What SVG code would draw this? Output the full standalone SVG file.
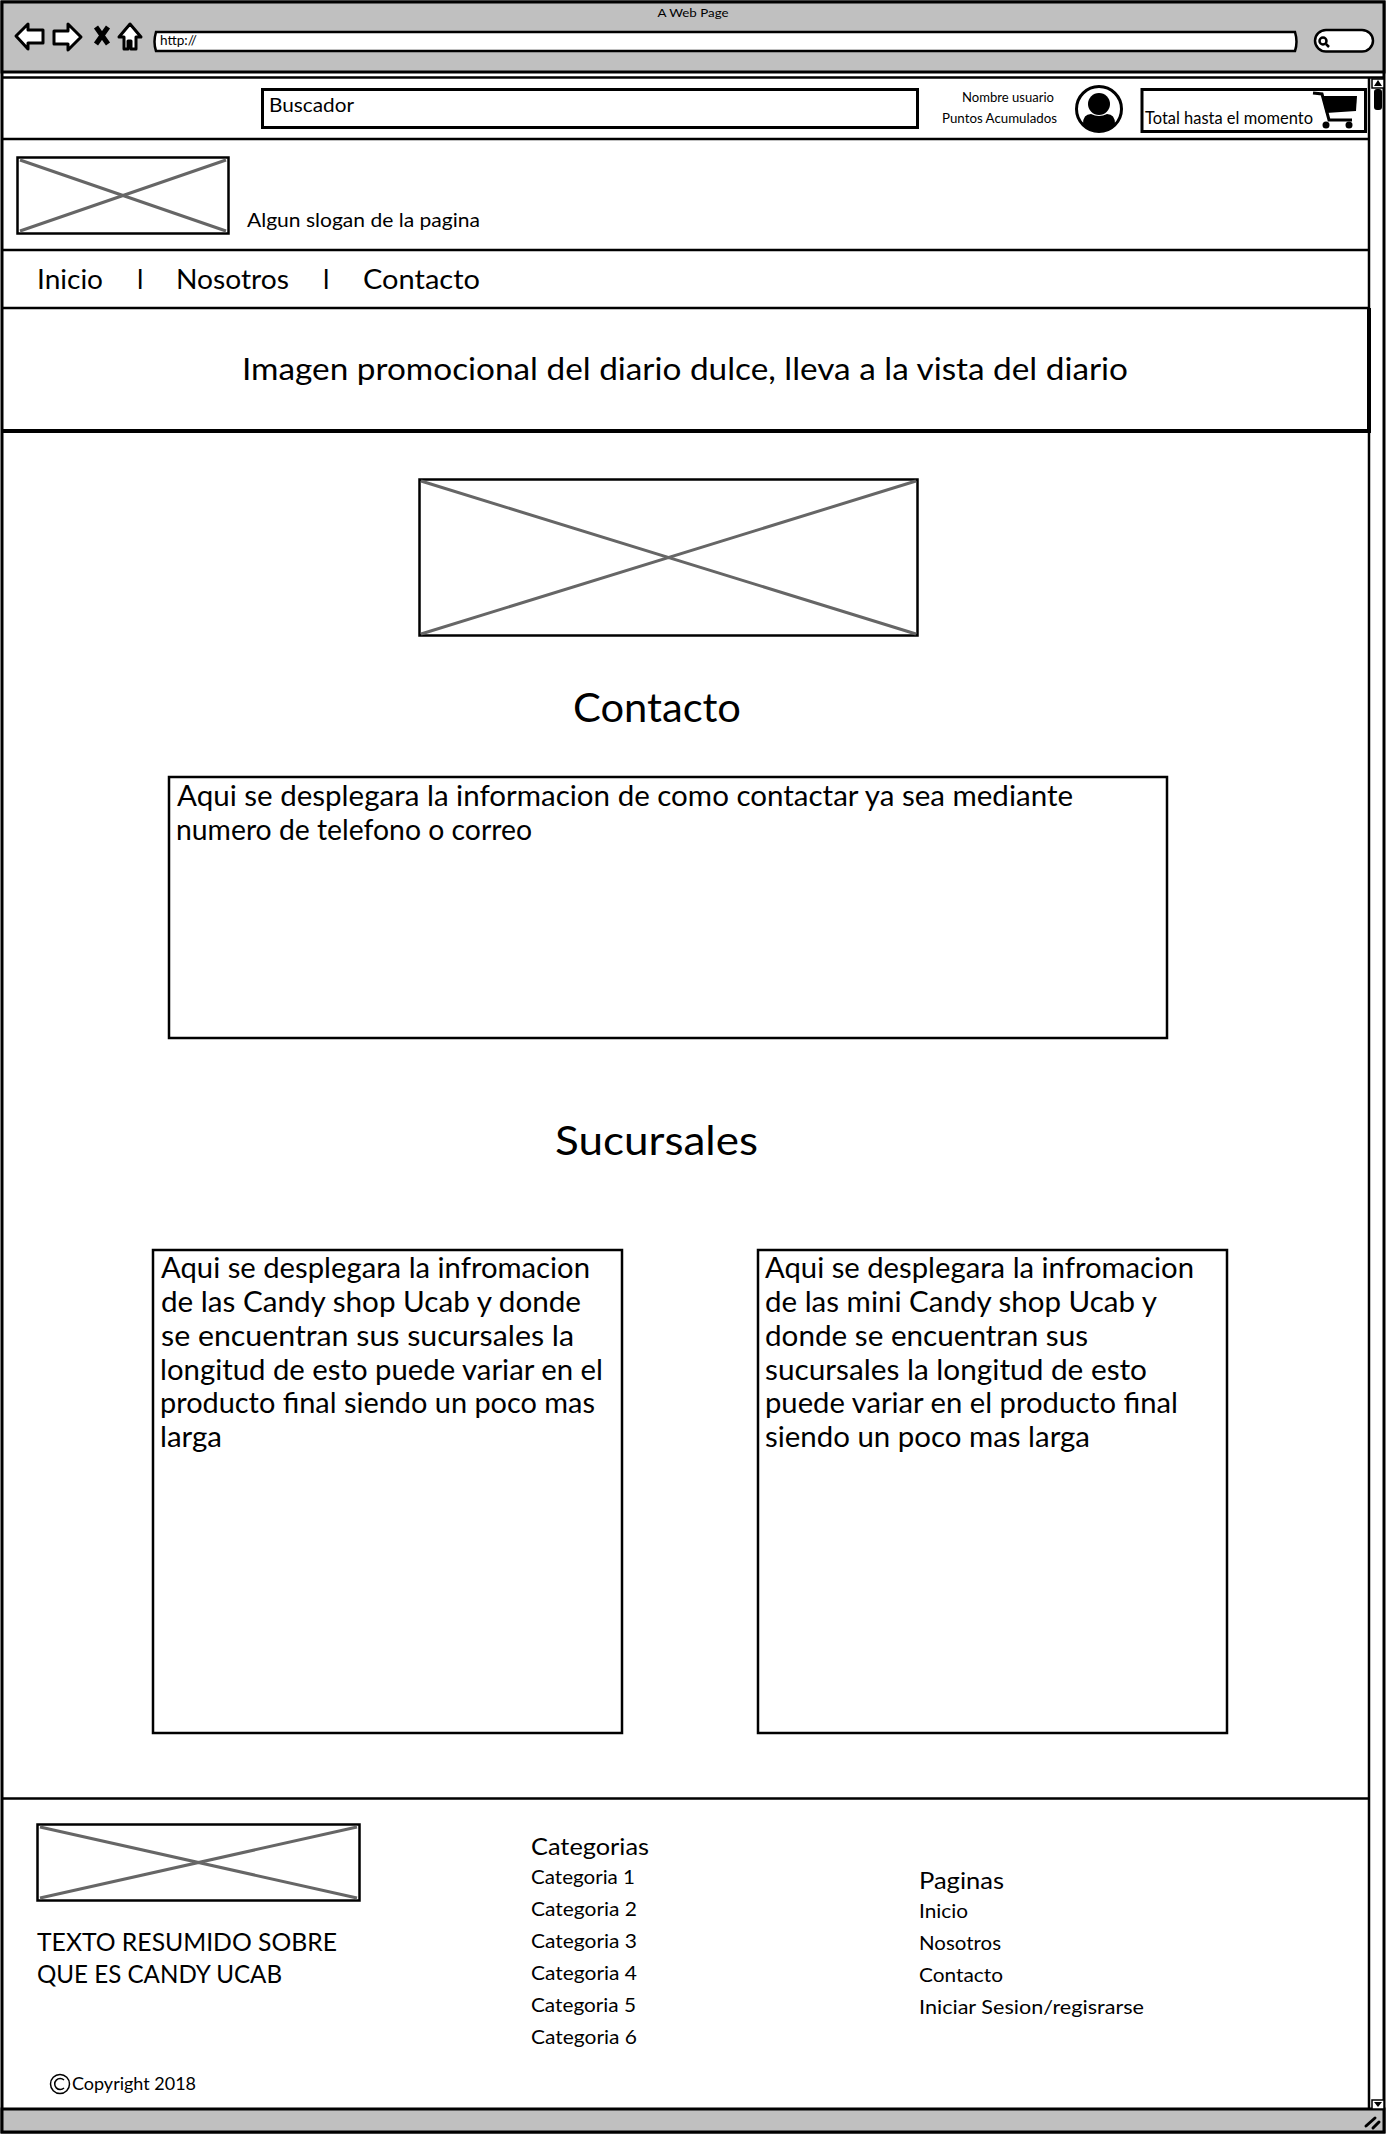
<svg xmlns="http://www.w3.org/2000/svg" width="1386" height="2135" viewBox="0 0 1386 2135">
<style>
text{font-family:"Lato","Liberation Sans",sans-serif;fill:#000}
.l{fill:none;stroke:#000;stroke-width:2.500}
.b{fill:#fff;stroke:#000;stroke-width:2.500}
.t{fill:#fff;stroke:#000;stroke-width:3;stroke-linejoin:round}
.x{stroke:#666;stroke-width:3;fill:none}
.g{fill:#c0c0c0;stroke:#000;stroke-width:3}
</style>
<rect width="1386" height="2135" fill="#fff"/>
<g id="browser">
<rect x="2" y="2" width="1382" height="2130" fill="#fff" stroke="#000" stroke-width="3"/>
<path class="g" d="M2 2H1384V72H2Z"/>
<path class="l" d="M2 77.500H1384"/>
<path class="g" d="M2 2109H1384V2132H2Z"/>
<path class="l" d="M1369 78V2109"/>
<text x="693" y="17" font-size="12" text-anchor="middle" textLength="71" lengthAdjust="spacingAndGlyphs">A Web Page</text>
<path class="t" d="M16 36L28 24V30H43V43H28V49Z"/>
<path class="t" d="M81 37L68 24V31H54V44H68V50Z"/>
<path d="M96 27L108 44M108 27L96 44" fill="none" stroke="#000" stroke-width="5"/>
<path class="t" d="M130 24L141 37H136V49H131V41H128V49H124V37H119Z"/>
<path class="b" d="M156 32H1295Q1298 42 1295 51H156Q153 42 156 32Z"/>
<text x="160" y="45" font-size="12.500" textLength="37" lengthAdjust="spacingAndGlyphs">http://</text>
<rect class="b" x="1315" y="30" width="58" height="21.500" rx="11"/>
<circle cx="1323" cy="41" r="3.500" fill="none" stroke="#000" stroke-width="2.500"/>
<path d="M1326 44L1329 47" stroke="#000" stroke-width="2.500"/>
<rect x="1372" y="79" width="12" height="9" fill="#fff" stroke="#000" stroke-width="1.500"/>
<path d="M1374 86L1378 80L1382 86Z"/>
<rect x="1374" y="89" width="8" height="21" rx="3"/>
<rect x="1372" y="2100" width="12" height="9" fill="#fff" stroke="#000" stroke-width="1.500"/>
<path d="M1374 2102H1382L1378 2107Z"/>
<path d="M1366 2126L1375 2118M1373 2128L1379 2122" stroke="#000" stroke-width="3" stroke-linecap="round" fill="none"/>
</g>
<g id="topbar">
<path class="l" d="M2 139H1369"/>
<rect x="262.500" y="89.500" width="655" height="38" fill="#fff" stroke="#000" stroke-width="3"/>
<text x="269" y="112" font-size="19" textLength="85" lengthAdjust="spacingAndGlyphs">Buscador</text>
<text x="962" y="102" font-size="13" textLength="92" lengthAdjust="spacingAndGlyphs">Nombre usuario</text>
<text x="942" y="123" font-size="13" textLength="115" lengthAdjust="spacingAndGlyphs">Puntos Acumulados</text>
</g>
<g id="user-icon">
<circle cx="1099" cy="109" r="22.500" fill="#fff" stroke="#000" stroke-width="3"/>
<circle cx="1099" cy="104" r="11"/>
<path d="M1083 124Q1083 114 1091 114Q1099 118 1107 114Q1115 114 1115 124Q1099 139 1083 124Z"/>
</g>
<g id="cart">
<rect x="1142" y="89.500" width="223.500" height="42" fill="#fff" stroke="#000" stroke-width="3"/>
<text x="1145" y="124" font-size="17" textLength="168" lengthAdjust="spacingAndGlyphs">Total hasta el momento</text>
<path d="M1313 93L1322 94L1329 120H1352" fill="none" stroke="#000" stroke-width="3"/>
<path d="M1322 96H1357L1356 111L1326 113Z"/>
<circle cx="1326" cy="125" r="3.500"/>
<circle cx="1349" cy="125" r="3.500"/>
</g>
<g id="header">
<rect x="17.500" y="157.500" width="211" height="76" fill="#fff" stroke="#000" stroke-width="2.500"/>
<path class="x" d="M20 160L226 231M20 231L226 160"/>
<text x="247" y="227" font-size="19" textLength="233" lengthAdjust="spacingAndGlyphs">Algun slogan de la pagina</text>
<path class="l" d="M2 250H1369"/>
</g>
<g id="nav">
<text x="37" y="289" font-size="27" textLength="66" lengthAdjust="spacingAndGlyphs">Inicio</text>
<text x="137" y="289" font-size="27">l</text>
<text x="176" y="289" font-size="27" textLength="113" lengthAdjust="spacingAndGlyphs">Nosotros</text>
<text x="323" y="289" font-size="27">l</text>
<text x="363" y="289" font-size="27" textLength="117" lengthAdjust="spacingAndGlyphs">Contacto</text>
<path class="l" d="M2 308H1369"/>
</g>
<g id="banner">
<text x="242" y="380" font-size="31" textLength="886" lengthAdjust="spacingAndGlyphs">Imagen promocional del diario dulce, lleva a la vista del diario</text>
<path d="M2 431H1369V308" fill="none" stroke="#000" stroke-width="4"/>
</g>
<g id="hero-image">
<rect x="419.500" y="479.500" width="498" height="156" fill="#fff" stroke="#000" stroke-width="2.500"/>
<path class="x" d="M421 481L916 634M421 634L916 481"/>
</g>
<g id="contacto">
<text x="573" y="722" font-size="40" textLength="168" lengthAdjust="spacingAndGlyphs">Contacto</text>
<rect class="b" x="169" y="777" width="998" height="261"/>
<text x="177" y="806" font-size="28" textLength="896" lengthAdjust="spacingAndGlyphs">Aqui se desplegara la informacion de como contactar ya sea mediante</text>
<text x="176" y="840" font-size="28" textLength="356" lengthAdjust="spacingAndGlyphs">numero de telefono o correo</text>
</g>
<g id="sucursales">
<text x="555" y="1155" font-size="40" textLength="203" lengthAdjust="spacingAndGlyphs">Sucursales</text>
</g>
<g id="sucursal-1">
<rect class="b" x="153" y="1250" width="469" height="483"/>
<g font-size="28">
<text x="161" y="1278" textLength="429" lengthAdjust="spacingAndGlyphs">Aqui se desplegara la infromacion</text>
<text x="161" y="1312" textLength="420" lengthAdjust="spacingAndGlyphs">de las Candy shop Ucab y donde</text>
<text x="161" y="1346" textLength="413" lengthAdjust="spacingAndGlyphs">se encuentran sus sucursales la</text>
<text x="160" y="1380" textLength="443" lengthAdjust="spacingAndGlyphs">longitud de esto puede variar en el</text>
<text x="160" y="1413" textLength="435" lengthAdjust="spacingAndGlyphs">producto final siendo un poco mas</text>
<text x="160" y="1447" textLength="62" lengthAdjust="spacingAndGlyphs">larga</text>
</g>
</g>
<g id="sucursal-2">
<rect class="b" x="758" y="1250" width="469" height="483"/>
<g font-size="28">
<text x="765" y="1278" textLength="429" lengthAdjust="spacingAndGlyphs">Aqui se desplegara la infromacion</text>
<text x="765" y="1312" textLength="392" lengthAdjust="spacingAndGlyphs">de las mini Candy shop Ucab y</text>
<text x="765" y="1346" textLength="323" lengthAdjust="spacingAndGlyphs">donde se encuentran sus</text>
<text x="765" y="1380" textLength="382" lengthAdjust="spacingAndGlyphs">sucursales la longitud de esto</text>
<text x="765" y="1413" textLength="413" lengthAdjust="spacingAndGlyphs">puede variar en el producto final</text>
<text x="765" y="1447" textLength="325" lengthAdjust="spacingAndGlyphs">siendo un poco mas larga</text>
</g>
</g>
<g id="footer">
<path class="l" d="M2 1798.500H1369"/>
<rect x="37.500" y="1824.500" width="322" height="76" fill="#fff" stroke="#000" stroke-width="2.500"/>
<path class="x" d="M40 1827L357 1898M40 1898L357 1827"/>
<text x="37" y="1951" font-size="25" textLength="300" lengthAdjust="spacingAndGlyphs">TEXTO RESUMIDO SOBRE</text>
<text x="37" y="1983" font-size="25" textLength="245" lengthAdjust="spacingAndGlyphs">QUE ES CANDY UCAB</text>
<text x="531" y="1855" font-size="24" textLength="118" lengthAdjust="spacingAndGlyphs">Categorias</text>
<text x="531" y="1884" font-size="20" textLength="104" lengthAdjust="spacingAndGlyphs">Categoria 1</text>
<text x="531" y="1916" font-size="20" textLength="106" lengthAdjust="spacingAndGlyphs">Categoria 2</text>
<text x="531" y="1948" font-size="20" textLength="106" lengthAdjust="spacingAndGlyphs">Categoria 3</text>
<text x="531" y="1980" font-size="20" textLength="106" lengthAdjust="spacingAndGlyphs">Categoria 4</text>
<text x="531" y="2012" font-size="20" textLength="105" lengthAdjust="spacingAndGlyphs">Categoria 5</text>
<text x="531" y="2044" font-size="20" textLength="106" lengthAdjust="spacingAndGlyphs">Categoria 6</text>
<text x="919" y="1889" font-size="24" textLength="85" lengthAdjust="spacingAndGlyphs">Paginas</text>
<text x="919" y="1918" font-size="20" textLength="49" lengthAdjust="spacingAndGlyphs">Inicio</text>
<text x="919" y="1950" font-size="20" textLength="82" lengthAdjust="spacingAndGlyphs">Nosotros</text>
<text x="919" y="1982" font-size="20" textLength="84" lengthAdjust="spacingAndGlyphs">Contacto</text>
<text x="919" y="2014" font-size="20" textLength="225" lengthAdjust="spacingAndGlyphs">Iniciar Sesion/regisrarse</text>
<circle cx="60" cy="2084" r="9.500" fill="none" stroke="#000" stroke-width="1.500"/>
<path d="M64 2080A5.500 5.500 0 1 0 64 2088" fill="none" stroke="#000" stroke-width="1.500"/>
<text x="72" y="2090" font-size="18" textLength="124" lengthAdjust="spacingAndGlyphs">Copyright 2018</text>
</g>
</svg>
